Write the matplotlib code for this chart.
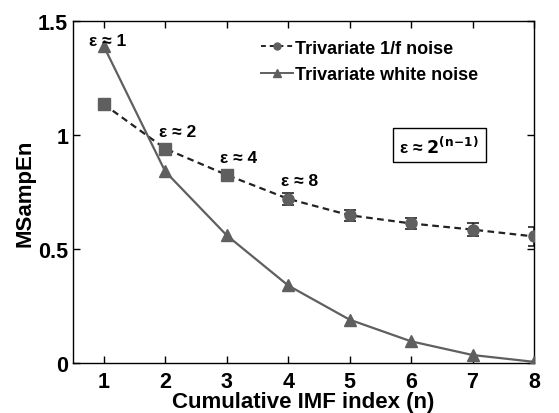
import matplotlib
matplotlib.use("Agg")
import matplotlib.pyplot as plt
import numpy as np

plt.rcParams['font.family'] = ['Liberation Sans', 'DejaVu Sans']
plt.rcParams['font.weight'] = 'bold'

n = [1, 2, 3, 4, 5, 6, 7, 8]
pink = [1.135, 0.94, 0.825, 0.72, 0.648, 0.612, 0.585, 0.555]
pink_err = [0.0, 0.015, 0.02, 0.025, 0.025, 0.025, 0.028, 0.04]
white = [1.39, 0.84, 0.56, 0.34, 0.19, 0.095, 0.035, 0.005]
eps_labels = ["ε ≈ 1", "ε ≈ 2", "ε ≈ 4", "ε ≈ 8"]
eps_pos = [(1.07, 1.415), (2.2, 1.015), (3.2, 0.9), (4.19, 0.8)]

gray = "#5f5f5f"
fig = plt.figure(figsize=(5.59, 4.14), dpi=100)
ax = fig.add_axes([0.1306, 0.1208, 0.8247, 0.8261])

ax.errorbar(n, pink, yerr=pink_err, fmt='none', ecolor='#222222', elinewidth=1.2, capsize=4, capthick=1.2, zorder=2)
ax.plot(n, pink, ls=(0, (3, 2)), color='#222222', lw=1.6, zorder=3)
ax.plot(n[:3], pink[:3], ls='none', marker='s', ms=8, color=gray, zorder=4)
ax.plot(n[3:], pink[3:], ls='none', marker='o', ms=8, color=gray, zorder=4)
ax.plot(n, white, ls='-', color=gray, lw=1.6, marker='^', ms=9, zorder=3)

# legend proxies
l1, = ax.plot([], [], ls=(0, (2.5, 2)), color='#222222', lw=1.4, marker='o', ms=5, mfc=gray, mec=gray)
l2, = ax.plot([], [], ls='-', color=gray, lw=1.4, marker='^', ms=6)
ax.legend([l1, l2], ["Trivariate 1/f noise", "Trivariate white noise"], loc='upper left',
          bbox_to_anchor=(0.408, 0.945), frameon=False, handlelength=1.75,
          handletextpad=0.15, labelspacing=0.5, borderpad=0, borderaxespad=0,
          prop={'weight': 'bold', 'size': 13})

for lab, (x, y) in zip(eps_labels, eps_pos):
    ax.text(x, y, lab, ha='center', va='center', fontsize=12.5, fontweight='bold')

ax.text(6.46, 0.955, "ε ≈ $\\mathbf{2}^{\\mathbf{(n\\!-\\!1)}}$", ha='center', va='center', fontsize=12.5,
        fontweight='bold', bbox=dict(boxstyle='square,pad=0.38', fc='white', ec='black', lw=1))

ax.set_xlim(0.5, 8)
ax.set_ylim(0, 1.5)
ax.set_xticks(n)
ax.set_yticks([0, 0.5, 1, 1.5])
ax.set_yticklabels(["0", "0.5", "1", "1.5"])
ax.tick_params(direction='in', top=True, right=True, labelsize=15.5, length=5, width=1)
ax.tick_params(axis='x', pad=6)
for s in ax.spines.values():
    s.set_linewidth(1)
ax.set_xlabel("Cumulative IMF index (n)", fontsize=16, fontweight='bold', labelpad=-1)
ax.set_ylabel("MSampEn", fontsize=16, fontweight='bold', labelpad=2)

fig.savefig("out.png", dpi=100)
